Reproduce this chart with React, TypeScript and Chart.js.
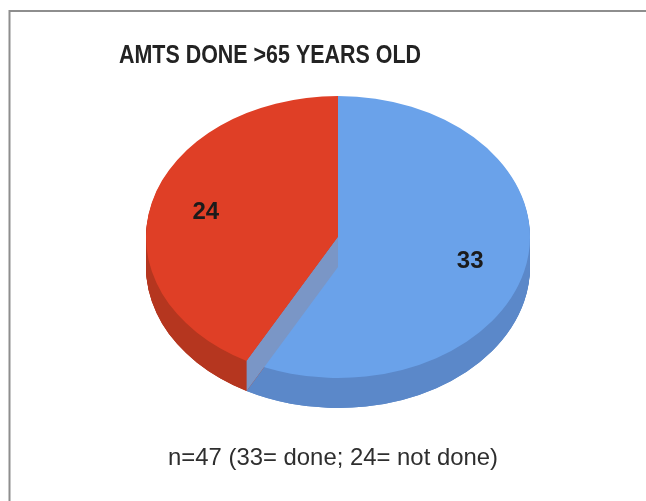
import React, { useEffect, useRef } from 'react';
import { Chart, registerables } from 'chart.js';

Chart.register(...registerables);

const categories = ['Done', 'Not done'];
const values = [33, 24];
const topColors = ['#6aa2ea', '#df3f26'];
const sideColors = ['#5b88c9', '#b5361f'];
const wallColor = '#7a96c6';
const titleText = 'AMTS DONE >65 YEARS OLD';
const noteText = 'n=47 (33= done; 24= not done)';

const W = 646;
const H = 501;
const Y_RATIO = 141 / 192;
const DEPTH = 30;
const LABEL_FRACTION = 0.71;

export default function App() {
  const ref = useRef<HTMLCanvasElement>(null);

  useEffect(() => {
    document.body.style.margin = '0';
    const canvas = ref.current!;

    const drawArcWith = (ctx: CanvasRenderingContext2D, arc: any, color: string) => {
      const orig = arc.options;
      arc.options = { ...orig, backgroundColor: color, borderWidth: 0 };
      arc.draw(ctx);
      arc.options = orig;
    };

    const plugin = {
      id: 'pie3d',
      beforeDraw(chart: any) {
        const ctx: CanvasRenderingContext2D = chart.ctx;
        ctx.save();
        ctx.fillStyle = '#ffffff';
        ctx.fillRect(0, 0, W, H);
        // frame
        ctx.strokeStyle = '#8e8e8e';
        ctx.lineWidth = 2;
        ctx.beginPath();
        ctx.moveTo(9.5, H);
        ctx.lineTo(9.5, 11);
        ctx.lineTo(W, 11);
        ctx.stroke();
        // title
        ctx.fillStyle = '#232323';
        ctx.font = 'bold 25px "Liberation Sans", Arial, sans-serif';
        ctx.textAlign = 'center';
        ctx.textBaseline = 'alphabetic';
        ctx.fillText(titleText, 270, 63, 302);
        // note
        ctx.fillStyle = '#2e2e2e';
        ctx.font = '24px "Liberation Sans", Arial, sans-serif';
        ctx.fillText(noteText, 333, 465, 330);
        ctx.restore();
      },
      beforeDatasetsDraw(chart: any) {
        const ctx: CanvasRenderingContext2D = chart.ctx;
        const meta = chart.getDatasetMeta(0);
        const arcs: any[] = meta.data;
        if (!arcs.length) return false;
        const cx = arcs[0].x;
        const cy = arcs[0].y;
        const R = arcs[0].outerRadius;

        const withEllipse = (dy: number, fn: () => void) => {
          ctx.save();
          ctx.translate(0, dy);
          ctx.translate(cx, cy);
          ctx.scale(1, Y_RATIO);
          ctx.translate(-cx, -cy);
          fn();
          ctx.restore();
        };

        // side layers
        for (let i = DEPTH; i >= 1; i--) {
          arcs.forEach((arc, idx) => {
            withEllipse(i, () => drawArcWith(ctx, arc, sideColors[idx]));
          });
        }
        // darker rim at the bottom
        arcs.forEach((arc, idx) => {
          withEllipse(DEPTH, () => drawArcWith(ctx, arc, sideColors[idx]));
        });
        // top surfaces
        arcs.forEach((arc, idx) => {
          withEllipse(0, () => drawArcWith(ctx, arc, topColors[idx]));
        });

        // visible wall of the first slice along its closing edge
        const end = arcs[0].endAngle;
        const ex = cx + R * Math.cos(end);
        const ey = cy + Y_RATIO * R * Math.sin(end);
        ctx.save();
        ctx.fillStyle = wallColor;
        ctx.beginPath();
        ctx.moveTo(cx, cy);
        ctx.lineTo(ex, ey);
        ctx.lineTo(ex, ey + DEPTH);
        ctx.lineTo(cx, cy + DEPTH);
        ctx.closePath();
        ctx.fill();
        ctx.restore();

        // value labels
        ctx.save();
        ctx.fillStyle = '#1b1b1b';
        ctx.font = 'bold 24px "Liberation Sans", Arial, sans-serif';
        ctx.textAlign = 'center';
        ctx.textBaseline = 'middle';
        arcs.forEach((arc, idx) => {
          const mid = (arc.startAngle + arc.endAngle) / 2;
          const lx = cx + LABEL_FRACTION * R * Math.cos(mid);
          const ly = cy + Y_RATIO * LABEL_FRACTION * R * Math.sin(mid);
          ctx.fillText(String(values[idx]), lx, ly);
        });
        ctx.restore();
        return false;
      },
    };

    const chart = new Chart(canvas, {
      type: 'pie',
      data: {
        labels: categories,
        datasets: [
          {
            data: values,
            backgroundColor: topColors,
            borderWidth: 0,
          },
        ],
      },
      options: {
        responsive: false,
        animation: false,
        events: [],
        layout: { padding: { left: 146, right: 116, top: 45, bottom: 72 } },
        plugins: {
          legend: { display: false },
          tooltip: { enabled: false },
          title: { display: false },
        },
      },
      plugins: [plugin as any],
    });

    return () => chart.destroy();
  }, []);

  return <canvas ref={ref} width={W} height={H} style={{ display: 'block', width: W, height: H }} />;
}
